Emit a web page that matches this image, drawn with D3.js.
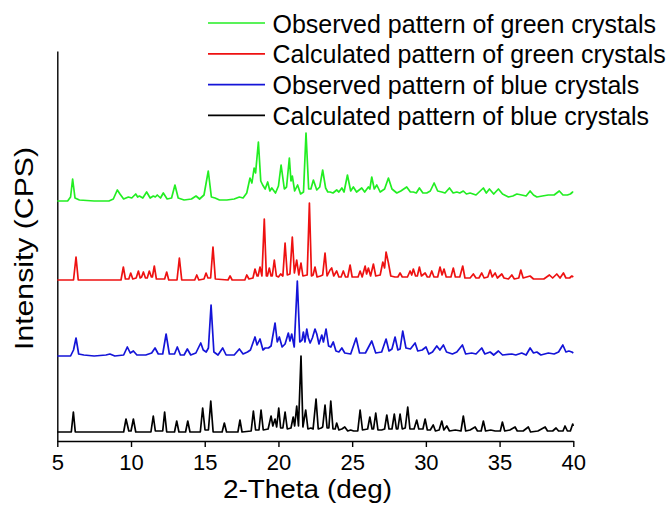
<!DOCTYPE html>
<html>
<head>
<meta charset="utf-8">
<script src="https://cdn.jsdelivr.net/npm/d3@7"></script>
<style>
  body { margin: 0; background: #fff; }
  text { font-family: "Liberation Sans", Arial, sans-serif; fill: #000; }
</style>
</head>
<body>
<script>
// x ticks (2-theta)
var xTicks = [5, 10, 15, 20, 25, 30, 35, 40];

var seriesNames = [
    "Observed pattern of green crystals",
    "Calculated pattern of green crystals",
    "Observed pattern of blue crystals",
    "Calculated pattern of blue crystals"
];
var seriesColors = ["#22ee22", "#ee1111", "#1414d8", "#000000"];
// vertical stacking offset of each pattern (intensity units)
var seriesOffsets = [240, 161, 85, 9];

// [2theta, intensity]
var obsGreen = [[5.0,0],[5.7,0],[5.9,4],[6.04,22],[6.2,3],[6.5,1],[7.5,0],[8.5,0],[8.8,2],[9.07,11],[9.25,7],[9.5,2],[9.82,4],[10.05,3],[10.32,7],[10.45,4],[10.57,5],[10.8,3],[11.06,9],[11.3,3],[11.51,5],[11.65,4],[11.78,6],[12.0,3],[12.19,8],[12.45,2],[12.75,3],[12.98,16],[13.2,3],[13.6,1],[14.1,2],[14.41,5],[14.65,2],[14.95,6],[15.24,30],[15.45,4],[15.7,3],[16.0,1],[16.5,1],[17.0,2],[17.35,4],[17.6,3],[17.85,8],[18.07,23],[18.2,18],[18.35,33],[18.45,28],[18.64,59],[18.8,20],[18.93,16],[19.1,12],[19.27,19],[19.42,10],[19.55,13],[19.8,8],[20.0,15],[20.18,36],[20.4,12],[20.55,14],[20.74,43],[20.85,20],[20.94,25],[21.1,10],[21.3,16],[21.5,7],[21.7,9],[21.87,68],[22.05,12],[22.2,12],[22.37,21],[22.6,11],[22.8,14],[23.0,31],[23.2,13],[23.35,9],[23.5,9],[23.7,8],[23.95,11],[24.1,9],[24.3,13],[24.45,9],[24.68,26],[24.9,10],[25.08,14],[25.3,9],[25.65,13],[25.85,9],[26.1,14],[26.2,12],[26.33,24],[26.5,12],[26.67,16],[26.9,9],[27.2,12],[27.46,23],[27.7,12],[28.03,8],[28.3,10],[28.7,14],[28.95,9],[29.15,9],[29.35,8],[29.56,13],[29.8,8],[30.06,8],[30.3,10],[30.56,18],[30.8,10],[31.08,9],[31.3,8],[31.6,13],[31.85,8],[32.1,9],[32.3,8],[32.54,10],[32.75,7],[33.0,8],[33.4,6],[33.9,13],[34.1,8],[34.31,12],[34.6,7],[34.92,12],[35.2,7],[35.6,4],[35.9,5],[36.17,7],[36.5,6],[36.8,5],[37.07,10],[37.3,6],[37.53,4],[37.9,5],[38.3,6],[38.7,6],[39.05,10],[39.3,6],[39.6,6],[39.8,7],[39.96,9],[40.0,9]];

var calcGreen = [[5.0,0],[6.1,0],[6.27,23],[6.42,0],[9.32,0],[9.48,13],[9.62,1],[9.85,1],[9.98,7],[10.12,1],[10.35,2],[10.5,9],[10.62,2],[10.72,3],[10.84,8],[10.98,2],[11.1,2],[11.24,9],[11.38,3],[11.45,3],[11.58,14],[11.72,1],[12.28,1],[12.42,8],[12.56,0],[13.12,0],[13.28,22],[13.44,0],[14.32,0],[14.46,5],[14.6,0],[14.95,1],[15.09,7],[15.22,2],[15.4,2],[15.56,33],[15.72,1],[16.58,0],[16.72,4],[16.86,0],[17.72,0],[17.85,5],[18.0,1],[18.27,2],[18.41,11],[18.55,4],[18.62,4],[18.75,13],[18.88,4],[19.04,61],[19.18,4],[19.25,4],[19.38,12],[19.5,4],[19.58,4],[19.72,20],[19.86,4],[20.0,3],[20.15,6],[20.3,4],[20.45,37],[20.6,5],[20.78,6],[20.94,43],[21.08,7],[21.24,20],[21.38,5],[21.53,17],[21.66,4],[21.95,5],[22.1,77],[22.24,4],[22.35,5],[22.48,13],[22.62,3],[22.85,4],[23.0,5],[23.16,27],[23.3,4],[23.5,10],[23.61,12],[23.75,4],[23.95,9],[24.1,3],[24.25,3],[24.4,9],[24.55,3],[24.7,3],[24.86,15],[25.0,3],[25.2,3],[25.4,3],[25.54,9],[25.68,3],[25.88,14],[25.98,6],[26.1,12],[26.25,4],[26.44,16],[26.6,4],[26.9,5],[27.08,18],[27.2,12],[27.3,28],[27.46,17],[27.62,4],[27.9,3],[28.1,3],[28.25,7],[28.4,3],[28.75,3],[28.93,9],[29.04,5],[29.15,11],[29.3,4],[29.42,4],[29.56,13],[29.7,4],[29.95,7],[30.1,3],[30.25,3],[30.4,9],[30.55,3],[30.8,3],[30.96,13],[31.1,5],[31.23,11],[31.38,3],[31.7,3],[31.86,12],[32.0,3],[32.3,3],[32.5,14],[32.65,2],[33.0,2],[33.22,6],[33.4,2],[33.6,2],[33.79,7],[33.95,2],[34.2,3],[34.36,10],[34.5,3],[34.7,7],[34.85,2],[35.15,6],[35.3,2],[35.6,1],[35.83,5],[36.0,1],[36.3,2],[36.44,10],[36.6,2],[37.07,4],[37.3,1],[38.0,1],[38.38,5],[38.6,2],[38.88,6],[39.1,2],[39.33,7],[39.5,2],[39.75,2],[39.9,4],[40.0,3]];

var obsBlue = [[5.0,0],[5.9,0],[6.1,6],[6.27,18],[6.45,2],[6.8,1],[7.5,0],[8.3,1],[8.57,2],[8.9,0],[9.5,1],[9.75,9],[9.95,3],[10.16,5],[10.4,1],[11.0,1],[11.4,3],[11.63,8],[11.85,2],[12.15,2],[12.38,22],[12.6,2],[12.95,2],[13.14,9],[13.35,1],[13.6,1],[13.82,7],[14.05,1],[14.4,3],[14.73,13],[14.9,6],[15.1,4],[15.25,8],[15.43,51],[15.62,4],[15.9,1],[16.22,8],[16.45,1],[17.0,1],[17.35,7],[17.6,2],[17.9,4],[18.1,6],[18.41,19],[18.55,11],[18.75,17],[18.95,6],[19.1,8],[19.32,8],[19.5,10],[19.77,33],[19.92,14],[20.06,19],[20.25,9],[20.45,12],[20.67,23],[20.78,15],[20.9,22],[21.07,9],[21.28,75],[21.45,14],[21.6,16],[21.69,24],[21.8,14],[21.92,27],[22.03,18],[22.15,13],[22.3,18],[22.48,27],[22.6,22],[22.75,12],[22.94,21],[23.05,14],[23.23,27],[23.4,10],[23.55,9],[23.72,14],[23.9,5],[24.1,4],[24.3,8],[24.5,3],[24.9,2],[25.27,18],[25.5,3],[25.9,3],[26.33,15],[26.6,3],[27.0,4],[27.3,17],[27.5,5],[27.7,7],[27.91,19],[28.1,6],[28.25,7],[28.43,25],[28.65,8],[28.95,7],[29.27,13],[29.45,5],[29.75,6],[30.01,9],[30.2,2],[30.45,4],[30.74,10],[30.95,6],[31.19,11],[31.4,4],[31.8,2],[32.1,4],[32.48,11],[32.7,2],[33.11,3],[33.4,2],[33.79,8],[34.0,2],[34.36,4],[34.6,1],[34.92,5],[35.2,1],[35.83,2],[36.1,1],[36.5,3],[36.8,1],[37.07,8],[37.3,3],[37.53,4],[37.8,1],[38.31,3],[38.7,2],[39.0,4],[39.29,11],[39.5,4],[39.7,5],[39.9,4],[40.0,3]];

var calcBlue = [[5.0,0],[5.95,0],[6.09,20],[6.22,0],[9.5,0],[9.66,13],[9.85,1],[10.0,1],[10.16,13],[10.32,0],[11.35,0],[11.51,16],[11.65,1],[12.15,1],[12.28,20],[12.42,0],[12.95,0],[13.1,11],[13.25,0],[13.7,0],[13.85,11],[14.0,0],[14.7,0],[14.86,24],[15.02,2],[15.25,2],[15.41,31],[15.57,0],[16.18,0],[16.33,9],[16.48,0],[17.25,0],[17.39,12],[17.53,0],[18.15,1],[18.3,21],[18.45,2],[18.68,2],[18.82,22],[18.97,2],[19.3,3],[19.5,16],[19.62,6],[19.77,13],[19.88,5],[20.02,24],[20.15,4],[20.3,4],[20.45,20],[20.6,3],[20.85,4],[21.0,15],[21.1,6],[21.24,26],[21.36,6],[21.53,76],[21.66,5],[21.85,22],[22.0,3],[22.2,4],[22.35,3],[22.55,33],[22.7,3],[22.9,4],[23.0,5],[23.16,27],[23.3,4],[23.42,4],[23.55,31],[23.7,3],[23.85,3],[23.95,9],[24.1,2],[24.3,3],[24.5,5],[24.7,1],[24.9,2],[25.1,1],[25.38,1],[25.54,22],[25.7,2],[26.05,3],[26.2,15],[26.35,3],[26.45,3],[26.6,19],[26.75,2],[27.0,2],[27.2,3],[27.35,17],[27.5,3],[27.7,3],[27.86,18],[28.0,3],[28.1,3],[28.25,18],[28.4,3],[28.6,4],[28.77,25],[28.92,3],[29.2,3],[29.38,12],[29.52,3],[29.8,3],[29.95,13],[30.1,2],[30.3,2],[30.5,7],[30.65,1],[30.9,2],[31.08,11],[31.22,2],[31.42,6],[31.6,1],[32.0,2],[32.38,1],[32.54,16],[32.7,1],[33.0,2],[33.34,5],[33.5,1],[33.75,1],[33.9,11],[34.05,1],[34.4,2],[34.7,1],[35.05,1],[35.19,10],[35.35,1],[35.7,2],[36.05,5],[36.2,1],[36.6,1],[36.95,5],[37.1,0],[37.6,1],[38.09,5],[38.25,1],[38.6,1],[38.83,4],[39.0,1],[39.3,1],[39.44,6],[39.6,1],[39.8,1],[39.96,8],[40.0,6]];

var allSeries = [obsGreen, calcGreen, obsBlue, calcBlue];

let outerWidth = 669;
let outerHeight = 508;

let svg = d3.select("body")
    .append("svg")
    .attr("width", outerWidth)
    .attr("height", outerHeight);

let xScale = d3.scaleLinear()
    .domain([5, 40])
    .range([57.3, 573.3]);

let yScale = d3.scaleLinear()
    .domain([0, 390])
    .range([441, 51]);

// x axis
let xAxis = svg.append("g")
    .attr("transform", "translate(0," + yScale(0) + ")")
    .call(d3.axisBottom(xScale)
        .tickValues(xTicks)
        .tickFormat(d3.format("d"))
        .tickSize(6)
        .tickSizeOuter(0)
        .tickPadding(7));
xAxis.selectAll("text")
    .style("font-family", "'Liberation Sans', Arial, sans-serif")
    .style("font-size", "22px")
    .attr("fill", "#000");
xAxis.selectAll("line, path").attr("stroke", "#000").attr("stroke-width", 1.4);

// y axis: plain line, no ticks
let yAxis = svg.append("g")
    .attr("transform", "translate(" + xScale(5) + ",0)")
    .call(d3.axisLeft(yScale).tickValues([]).tickSizeOuter(0));
yAxis.select("path").attr("stroke", "#000").attr("stroke-width", 1.4);

// patterns
let lineGenerator = d3.line()
    .x(function(d) { return xScale(d[0]); });

allSeries.forEach(function(series, i) {
    lineGenerator.y(function(d) { return yScale(d[1] + seriesOffsets[i]); });
    svg.append("path")
        .attr("d", lineGenerator(series))
        .attr("fill", "none")
        .attr("stroke", seriesColors[i])
        .attr("stroke-width", 1.7)
        .attr("stroke-linejoin", "round");
});

// legend
let legend = svg.append("g").attr("class", "legend");
seriesNames.forEach(function(name, i) {
    let y = 23 + i * 30.8;
    legend.append("line")
        .attr("x1", 208).attr("x2", 265)
        .attr("y1", y).attr("y2", y)
        .attr("stroke", seriesColors[i])
        .attr("stroke-width", 1.7);
    legend.append("text")
        .attr("x", 272.5)
        .attr("y", y + 9.5)
        .style("font-size", "25px")
        .text(name);
});

// axis titles
svg.append("text")
    .attr("x", 223)
    .attr("y", 498)
    .style("font-size", "26px")
    .attr("textLength", 169)
    .attr("lengthAdjust", "spacingAndGlyphs")
    .text("2-Theta (deg)");

svg.append("text")
    .attr("transform", "translate(33,350) rotate(-90)")
    .style("font-size", "26px")
    .attr("textLength", 203)
    .attr("lengthAdjust", "spacingAndGlyphs")
    .text("Intensity (CPS)");
</script>
</body>
</html>
